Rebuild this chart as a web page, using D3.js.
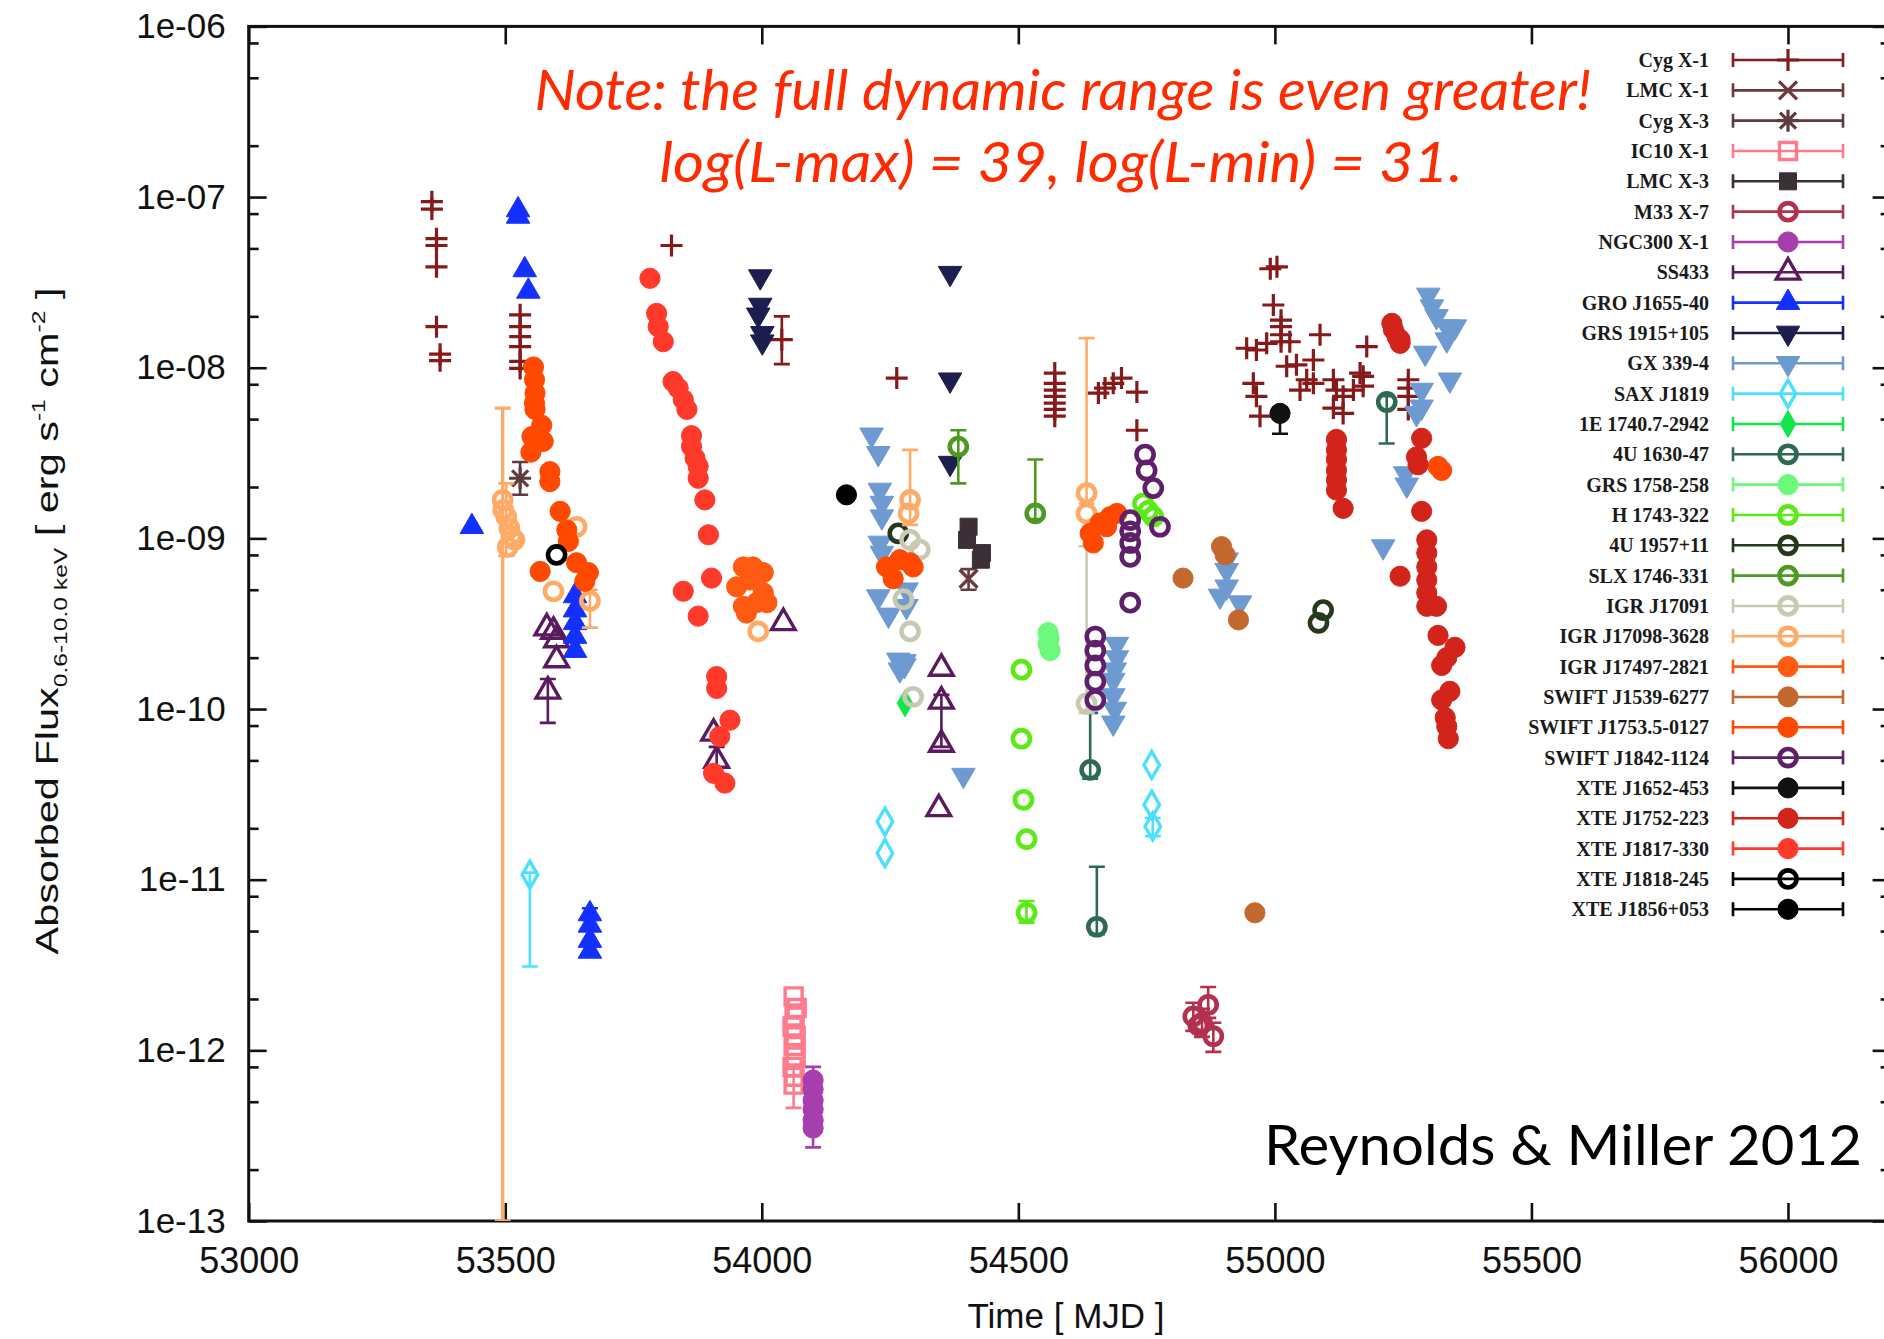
<!DOCTYPE html>
<html>
<head>
<meta charset="utf-8">
<script src="https://cdn.jsdelivr.net/npm/d3@7"></script>
<style>
  body { margin: 0; background: #fff; }
</style>
</head>
<body>
<svg id="chart" width="1884" height="1339" font-family="Liberation Sans, Arial, sans-serif"></svg>
<script>
// ---- data: [MJD, flux] or [MJD, flux, errLow, errHigh] ----
var cygX1 = [
  [53357,9.4e-8],[53357,8.5e-8],[53366,5.7e-8],[53366,5.2e-8],[53366,3.9e-8],[53366,1.74e-8],[53373,1.2e-8],[53373,1.1e-8],
  [53529,2.04e-8],[53529,1.74e-8],[53529,1.52e-8],[53529,1.33e-8],[53529,1.09e-8],[53529,9.9e-9],
  [53824,5.2e-8],[54039,1.46e-8,1.05e-8,2.0e-8],[54263,8.7e-9],
  [54571,9.3e-9],[54571,8.1e-9],[54571,7.4e-9],[54571,6.8e-9],[54571,6.2e-9],[54571,5.7e-9],[54571,5.2e-9],
  [54656,7.1e-9],[54669,7.6e-9],[54685,8.1e-9],[54701,8.7e-9],[54731,7.2e-9],[54731,4.3e-9],
  [54991,3.8e-8],[55004,3.9e-8],[54997,2.33e-8],[55012,1.9e-8],[55012,1.74e-8],[55012,1.56e-8],[55012,1.42e-8],
  [54945,1.3e-8],[54964,1.27e-8],[54984,1.39e-8],[55029,1.42e-8],[55088,1.56e-8],[55179,1.33e-8],
  [55023,1.02e-8],[55042,1.04e-8],[55075,1.11e-8],[55062,8.5e-9],[55075,8.1e-9],[55049,7.4e-9],
  [54958,8.1e-9],[54964,6.8e-9],[54971,5.2e-9],
  [55114,8.5e-9],[55120,7.4e-9],[55133,6.8e-9],[55114,5.8e-9],[55133,5.4e-9],
  [55153,7.4e-9],[55166,9.3e-9],[55172,8.9e-9],[55172,7.8e-9],
  [55260,8.5e-9],[55260,7.6e-9],[55260,6.8e-9],[55260,5.7e-9]
];
var lmcX1 = [[54403,5.8e-10,5.0e-10,6.6e-10]];
var cygX3 = [[53529,2.25e-9,1.8e-9,2.8e-9]];
var ic10X1 = [[54062,2.07e-12],[54068,1.77e-12],[54064,1.58e-12],[54060,1.38e-12],[54066,1.21e-12],
  [54062,1.06e-12],[54066,9.2e-13],[54060,8.0e-13],[54064,7.0e-13],[54062,6.3e-13,4.6e-13,8.0e-13]];
var lmcX3 = [[54403,1.17e-9],[54400,9.8e-10],[54429,8.2e-10],[54427,7.5e-10]];
var m33X7 = [[54870,1.85e-12,1.55e-12,2.35e-12],[54841,1.58e-12,1.3e-12,1.9e-12],[54858,1.45e-12,1.2e-12,1.75e-12],
  [54851,1.4e-12],[54880,1.21e-12,9.8e-13,1.45e-12]];
var ngc300X1 = [[54100,6.7e-13,5.9e-13,8.0e-13],[54100,5.9e-13],[54100,5.1e-13],[54100,4.5e-13],[54100,3.9e-13],[54100,3.5e-13,2.7e-13,3.9e-13]];
var ss433 = [[53581,2.98e-10],[53594,2.85e-10],[53600,2.54e-10],[53600,1.94e-10],[53583,1.27e-10,8.3e-11,1.5e-10],
  [53906,7.2e-11],[53912,5.0e-11,4.2e-11,6.0e-11],[54042,3.2e-10],
  [54350,1.73e-10],[54350,1.11e-10,6.0e-11,1.21e-10],[54350,6.2e-11],[54345,2.6e-11]];
var groJ1655 = [[53435,1.17e-9],[53525,8.4e-8],[53525,7.7e-8],[53538,3.74e-8],[53545,2.8e-8],
  [53636,4.6e-10],[53636,3.8e-10],[53636,3.2e-10],[53636,2.66e-10],[53636,2.2e-10],
  [53665,6.3e-12,5.8e-12,6.8e-12],[53665,5.4e-12],[53665,4.4e-12],[53665,3.8e-12]];
var grs1915 = [[53997,3.42e-8],[53997,2.33e-8],[53993,2.04e-8],[54001,1.59e-8],[54001,1.42e-8],
  [54367,3.58e-8],[54367,8.5e-9],[54367,2.76e-9]];
var gx339 = [
  [54214,4.04e-9],[54227,3.15e-9],[54230,1.92e-9],[54234,1.61e-9],[54234,1.34e-9],[54230,9.4e-10],[54234,8.2e-10],
  [54227,4.56e-10],[54247,3.56e-10],[54266,1.94e-10],[54269,1.7e-10],
  [54282,5.0e-10],[54282,4.0e-10],[54278,1.9e-10],[54278,1.8e-10],
  [54692,2.4e-10],[54692,2.0e-10],[54688,1.7e-10],[54685,1.48e-10],[54685,1.2e-10],[54688,1.0e-10],[54685,8.3e-11],
  [54393,4.1e-11],
  [54906,7.5e-10],[54906,6.5e-10],[54906,5.2e-10],[54893,4.6e-10],[54932,4.2e-10],
  [55299,2.67e-8],[55306,2.28e-8],[55315,2.0e-8],[55335,1.74e-8],[55351,1.74e-8],[55335,1.46e-8],[55293,1.22e-8],
  [55341,8.5e-9],[55286,7.4e-9],[55286,5.9e-9],[55276,5.4e-9],[55254,2.4e-9],[55257,2.06e-9],[55211,8.95e-10]
];
var saxJ1819 = [[53548,1.07e-11,3.1e-12,1.1e-11],[54240,2.19e-11],[54240,1.43e-11],
  [54760,4.7e-11],[54760,2.75e-11],[54762,2.05e-11,1.8e-11,2.3e-11]];
var e1740 = [[54279,1.08e-10]];
var u1630 = [[55218,6.3e-9,3.6e-9,6.8e-9],[54640,4.4e-11,3.9e-11,9.5e-11],[54653,5.3e-12,4.8e-12,1.19e-11]];
var grs1758 = [[54558,2.8e-10],[54560,2.6e-10],[54558,2.4e-10],[54562,2.2e-10]];
var h1743 = [[54743,1.6e-9],[54753,1.45e-9],[54763,1.34e-9],
  [54506,1.7e-10],[54506,6.7e-11],[54510,2.94e-11],[54516,1.73e-11],[54516,6.4e-12,5.6e-12,7.5e-12]];
var u1957 = [[54266,1.07e-9],[55094,3.8e-10],[55085,3.2e-10]];
var slx1746 = [[54383,3.45e-9,2.1e-9,4.3e-9],[54533,1.4e-9,1.3e-9,2.9e-9]];
var igrJ17091 = [[54289,9.8e-10],[54308,8.6e-10],[54276,4.4e-10],[54289,2.85e-10],[54295,1.18e-10],[54633,1.08e-10,9.5e-11,9.0e-10]];
var igrJ17098 = [[53495,1.68e-9,1e-14,5.8e-9],[53496,1.47e-9],[53502,1.34e-9,7.9e-10,2.1e-9],[53508,1.15e-9],
  [53512,1.03e-9],[53518,9.8e-10],[53505,8.9e-10],[53594,4.9e-10],[53639,1.17e-9],[53665,4.3e-10,3.0e-10,5.0e-10],
  [54289,1.68e-9,1.2e-9,3.3e-9],[54286,1.4e-9],[54633,1.84e-9,1.6e-9,1.49e-8],[54633,1.4e-9],[53993,2.85e-10]];
var igrJ17497 = [[53964,6.8e-10],[53983,6.8e-10],[54003,6.3e-10],[53951,5.2e-10],[53977,5.7e-10],
  [54003,4.8e-10],[53964,4.0e-10],[53990,4.2e-10],[54010,4.2e-10],[53970,3.65e-10]];
var swiftJ1539 = [[54896,8.95e-10],[54903,8.0e-10],[54821,5.85e-10],[54929,3.33e-10],[54961,6.4e-12]];
var swiftJ1753 = [
  [53555,1.01e-8],[53557,8.5e-9],[53558,7.1e-9],[53557,6.2e-9],[53558,5.7e-9],[53571,4.6e-9],[53552,3.95e-9],
  [53574,3.7e-9],[53550,3.2e-9],[53587,2.46e-9],[53587,2.15e-9],[53607,1.44e-9],[53620,1.12e-9],[53623,9.6e-10],
  [53568,6.4e-10],[53639,7.2e-10],[53662,6.3e-10],[53655,5.6e-10],
  [54243,6.8e-10],[54269,7.5e-10],[54289,7.2e-10],[54256,5.8e-10],[54295,6.8e-10],
  [54640,1.07e-9],[54659,1.23e-9],[54679,1.34e-9],[54692,1.4e-9],[54646,9.4e-10],[54672,1.17e-9],
  [55318,2.64e-9],[55325,2.5e-9]
];
var swiftJ1842 = [[54747,3.1e-9],[54750,2.5e-9],[54763,1.97e-9],[54776,1.17e-9],
  [54718,1.28e-9],[54718,1.1e-9],[54718,9.4e-10],[54718,7.8e-10],[54718,4.2e-10],
  [54650,2.66e-10],[54650,2.2e-10],[54650,1.8e-10],[54650,1.45e-10],[54650,1.13e-10]];
var xteJ1652 = [[55010,5.4e-9,4.1e-9,5.8e-9]];
var xteJ1752 = [
  [55228,1.82e-8],[55231,1.67e-8],[55238,1.52e-8],[55244,1.46e-8],[55244,1.39e-8],
  [55120,3.8e-9],[55120,3.3e-9],[55120,2.9e-9],[55120,2.5e-9],[55120,2.2e-9],[55120,1.92e-9],[55133,1.5e-9],
  [55244,6.0e-10],[55286,3.86e-9],[55276,3.0e-9],[55279,2.7e-9],[55286,1.44e-9],
  [55296,9.8e-10],[55296,8.2e-10],[55296,6.8e-10],[55296,5.7e-10],[55296,4.8e-10],[55296,4.0e-10],
  [55315,4.0e-10],[55318,2.7e-10],[55351,2.3e-10],[55335,2.0e-10],[55325,1.8e-10],[55341,1.27e-10],
  [55325,1.13e-10],[55332,8.9e-11],[55335,7.9e-11],[55338,6.7e-11]
];
var xteJ1817 = [
  [53782,3.34e-8],[53795,2.08e-8],[53798,1.74e-8],[53808,1.42e-8],[53827,8.3e-9],[53837,7.6e-9],[53847,6.5e-9],
  [53854,5.7e-9],[53863,4.0e-9],[53863,3.45e-9],[53870,2.95e-9],[53876,2.64e-9],[53876,2.25e-9],[53889,1.68e-9],
  [53896,1.05e-9],[53902,5.85e-10],[53847,4.9e-10],[53876,3.5e-10],[53912,1.55e-10],[53912,1.32e-10],
  [53938,8.6e-11],[53918,6.9e-11],[53906,4.2e-11],[53928,3.68e-11]
];
var xteJ1818 = [[53600,8.0e-10]];
var xteJ1856 = [[54165,1.8e-9]];

// ---- axis ticks ----
var xTicks = [53000, 53500, 54000, 54500, 55000, 55500, 56000];
var yTicks = [1e-13, 1e-12, 1e-11, 1e-10, 1e-9, 1e-8, 1e-7, 1e-6];
var yTickLabels = ["1e-13", "1e-12", "1e-11", "1e-10", "1e-09", "1e-08", "1e-07", "1e-06"];

// ---- sources: legend order = drawing order ----
var sources = [
  {name: "Cyg X-1", data: cygX1, color: "#861a1a", sym: "plus"},
  {name: "LMC X-1", data: lmcX1, color: "#6c3a3c", sym: "cross"},
  {name: "Cyg X-3", data: cygX3, color: "#5d3b3e", sym: "star"},
  {name: "IC10 X-1", data: ic10X1, color: "#ff7b8c", sym: "square", open: true},
  {name: "LMC X-3", data: lmcX3, color: "#3b3036", sym: "square"},
  {name: "M33 X-7", data: m33X7, color: "#b3304f", sym: "circle", open: true},
  {name: "NGC300 X-1", data: ngc300X1, color: "#a63ead", sym: "circle"},
  {name: "SS433", data: ss433, color: "#5b1a5e", sym: "triangle", open: true},
  {name: "GRO J1655-40", data: groJ1655, color: "#1430ff", sym: "triangle"},
  {name: "GRS 1915+105", data: grs1915, color: "#1d1d4f", sym: "triDown"},
  {name: "GX 339-4", data: gx339, color: "#6e9ad2", sym: "triDown"},
  {name: "SAX J1819", data: saxJ1819, color: "#4ddfff", sym: "diamond", open: true},
  {name: "1E 1740.7-2942", data: e1740, color: "#12e64a", sym: "diamond"},
  {name: "4U 1630-47", data: u1630, color: "#2e6a52", sym: "circle", open: true},
  {name: "GRS 1758-258", data: grs1758, color: "#6cf97c", sym: "circle"},
  {name: "H 1743-322", data: h1743, color: "#5aea16", sym: "circle", open: true},
  {name: "4U 1957+11", data: u1957, color: "#26391c", sym: "circle", open: true},
  {name: "SLX 1746-331", data: slx1746, color: "#4c9a22", sym: "circle", open: true},
  {name: "IGR J17091", data: igrJ17091, color: "#c9c9b2", sym: "circle", open: true},
  {name: "IGR J17098-3628", data: igrJ17098, color: "#ffab68", sym: "circle", open: true},
  {name: "IGR J17497-2821", data: igrJ17497, color: "#ff5a12", sym: "circle"},
  {name: "SWIFT J1539-6277", data: swiftJ1539, color: "#c4692e", sym: "circle"},
  {name: "SWIFT J1753.5-0127", data: swiftJ1753, color: "#ff4800", sym: "circle"},
  {name: "SWIFT J1842-1124", data: swiftJ1842, color: "#5e2068", sym: "circle", open: true},
  {name: "XTE J1652-453", data: xteJ1652, color: "#111111", sym: "circle"},
  {name: "XTE J1752-223", data: xteJ1752, color: "#d2241a", sym: "circle"},
  {name: "XTE J1817-330", data: xteJ1817, color: "#ff3a2a", sym: "circle"},
  {name: "XTE J1818-245", data: xteJ1818, color: "#000000", sym: "circle", open: true},
  {name: "XTE J1856+053", data: xteJ1856, color: "#000000", sym: "circle"}
];

var svg = d3.select("#chart");
var L = 248.7, R = 1890.6, T = 26.4, B = 1221;

var x = d3.scaleLinear().domain([53000, 56200]).range([L, R]);
var y = d3.scaleLog().domain([1e-13, 1e-6]).range([B, T]).clamp(true);

// minor log ticks at 2, 5, 8
var yMinor = [];
for (var e = -13; e < -6; e++) {
  [2, 5, 8].forEach(function(m){ yMinor.push(m * Math.pow(10, e)); });
}

// ---- axes ----
function styleAxis(g, fs){
  g.attr("font-family", "Liberation Sans, Arial, sans-serif");
  g.select(".domain").remove();
  g.selectAll(".tick line").attr("stroke", "#111").attr("stroke-width", 2.6);
  g.selectAll(".tick text").attr("fill", "#111").attr("font-size", fs);
}

svg.append("g").attr("transform", "translate(0," + B + ")")
  .call(d3.axisBottom(x).tickValues(xTicks).tickSize(-18).tickPadding(26).tickFormat(d3.format("d")))
  .call(styleAxis, 36);
svg.append("g").attr("transform", "translate(0," + T + ")")
  .call(d3.axisTop(x).tickValues(xTicks).tickSize(-18).tickFormat(""))
  .call(styleAxis, 0);
svg.append("g").attr("transform", "translate(" + L + ",0)")
  .call(d3.axisLeft(y).tickValues(yTicks).tickSize(-18).tickPadding(23)
    .tickFormat(function(d, i){ return yTickLabels[i]; }))
  .call(styleAxis, 35);
svg.append("g").attr("transform", "translate(" + L + ",0)")
  .call(d3.axisLeft(y).tickValues(yMinor).tickSize(-10).tickFormat(""))
  .call(styleAxis, 0);
svg.append("g").attr("transform", "translate(" + R + ",0)")
  .call(d3.axisRight(y).tickValues(yTicks).tickSize(-18).tickFormat(""))
  .call(styleAxis, 0);
svg.append("g").attr("transform", "translate(" + R + ",0)")
  .call(d3.axisRight(y).tickValues(yMinor).tickSize(-10).tickFormat(""))
  .call(styleAxis, 0);

svg.append("rect").attr("x", L).attr("y", T).attr("width", R - L).attr("height", B - T)
  .attr("fill", "none").attr("stroke", "#111").attr("stroke-width", 3);

// ---- axis titles ----
svg.append("text").attr("x", 1066).attr("y", 1328).attr("text-anchor", "middle")
  .attr("font-size", 35).attr("fill", "#111").text("Time [ MJD ]");

var yt = svg.append("text").attr("transform", "translate(58,621) rotate(-90)")
  .attr("text-anchor", "middle").attr("font-size", 32).attr("fill", "#111")
  .attr("textLength", 667).attr("lengthAdjust", "spacingAndGlyphs");
yt.append("tspan").text("Absorbed Flux");
yt.append("tspan").attr("font-size", 19).attr("dy", 9).text("0.6-10.0 keV");
yt.append("tspan").attr("dy", -9).text(" [ erg s");
yt.append("tspan").attr("font-size", 19).attr("dy", -13).text("-1");
yt.append("tspan").attr("dy", 13).text(" cm");
yt.append("tspan").attr("font-size", 19).attr("dy", -13).text("-2");
yt.append("tspan").attr("dy", 13).text(" ]");

// ---- symbols ----
var symGen = {
  circle: d3.symbol(d3.symbolCircle, 320)(),
  circleOpen: d3.symbol(d3.symbolCircle, 230)(),
  square: d3.symbol(d3.symbolSquare, 290)(),
  triangle: d3.symbol(d3.symbolTriangle, 240)(),
  triDown: d3.symbol(d3.symbolTriangle, 240)(),
  diamond: d3.symbol(d3.symbolDiamond, 210)(),
  plus: "M-11,0H11M0,-11V11",
  cross: "M-9,-9L9,9M-9,9L9,-9",
  star: "M-11,0H11M0,-11V11M-8,-8L8,8M-8,8L8,-8"
};

function drawSymbol(g, s, cx, cy){
  var lineSym = (s.sym === "plus" || s.sym === "cross" || s.sym === "star");
  var key = (s.sym === "circle" && s.open) ? "circleOpen" : s.sym;
  var p = g.append("path").attr("d", symGen[key])
    .attr("transform", "translate(" + cx + "," + cy + ")" + (s.sym === "triDown" ? " rotate(180)" : ""))
    .attr("stroke", s.color);
  if (lineSym) p.attr("fill", "none").attr("stroke-width", 3.2);
  else if (s.open) p.attr("fill", "none").attr("stroke-width", s.sym === "circle" ? 4.6 : 3.4);
  else p.attr("fill", s.color).attr("stroke-width", 1);
}

function drawErr(g, color, cx, y1, y2, w){
  g.append("path")
    .attr("d", "M" + cx + "," + y1 + "V" + y2 + "M" + (cx - 8) + "," + y1 + "H" + (cx + 8) + "M" + (cx - 8) + "," + y2 + "H" + (cx + 8))
    .attr("stroke", color).attr("stroke-width", w || 2.6).attr("fill", "none");
}

svg.append("clipPath").attr("id", "plotclip").append("rect")
  .attr("x", L).attr("y", T).attr("width", R - L).attr("height", B - T);
var plot = svg.append("g").attr("clip-path", "url(#plotclip)");

sources.forEach(function(s){
  var g = plot.append("g");
  s.data.forEach(function(d){
    if (d.length > 2) {
      drawErr(g, s.color, x(d[0]), y(d[2]), y(d[3]), d[2] < 1e-13 ? 3.4 : 2.6);
    }
    drawSymbol(g, s, x(d[0]), y(d[1]));
  });
});

// ---- legend ----
var legX0 = 1733, legX1 = 1843, legTop = 60, legStep = 30.33;
var leg = svg.append("g");
sources.forEach(function(s, i){
  var ly = legTop + i * legStep;
  leg.append("text").attr("x", 1709).attr("y", ly + 7).attr("text-anchor", "end")
    .attr("font-family", "Liberation Serif, Times New Roman, serif").attr("font-weight", "bold")
    .attr("font-size", 20).attr("fill", "#1a1a1a").text(s.name);
  leg.append("path")
    .attr("d", "M" + legX0 + "," + ly + "H" + legX1 + "M" + legX0 + "," + (ly - 7) + "V" + (ly + 7) + "M" + legX1 + "," + (ly - 7) + "V" + (ly + 7))
    .attr("stroke", s.color).attr("stroke-width", 2.6).attr("fill", "none");
  drawSymbol(leg, s, (legX0 + legX1) / 2, ly);
});

// ---- annotations ----
svg.append("text").attr("x", 1063).attr("y", 110).attr("text-anchor", "middle")
  .attr("font-family", "Lato, Open Sans, sans-serif").attr("font-style", "italic")
  .attr("font-size", 56).attr("fill", "#ff2a00")
  .attr("textLength", 1057).attr("lengthAdjust", "spacingAndGlyphs")
  .text("Note: the full dynamic range is even greater!");
svg.append("text").attr("x", 1061).attr("y", 182).attr("text-anchor", "middle")
  .attr("font-family", "Lato, Open Sans, sans-serif").attr("font-style", "italic")
  .attr("font-size", 56).attr("fill", "#ff2a00")
  .attr("textLength", 803).attr("lengthAdjust", "spacingAndGlyphs")
  .text("log(L-max) = 39, log(L-min) = 31.");
svg.append("text").attr("x", 1862).attr("y", 1165).attr("text-anchor", "end")
  .attr("font-family", "Lato, Open Sans, sans-serif")
  .attr("font-size", 56).attr("fill", "#000")
  .attr("textLength", 598).attr("lengthAdjust", "spacingAndGlyphs")
  .text("Reynolds & Miller 2012");
</script>
</body>
</html>
